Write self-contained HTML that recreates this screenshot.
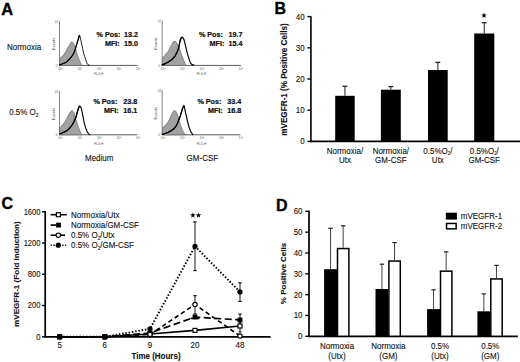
<!DOCTYPE html>
<html><head><meta charset="utf-8"><style>
html,body{margin:0;padding:0;background:#fff;}
body{width:520px;height:362px;overflow:hidden;}
svg{display:block;font-family:"Liberation Sans", sans-serif;}
</style></head><body>
<svg width="520" height="362" viewBox="0 0 520 362">
<text transform="translate(1.2,14.8) scale(1,1.0)" font-size="16.5" font-weight="bold" text-anchor="start" fill="#000" stroke="#000" stroke-width="0.35" >A</text>
<text transform="translate(274.6,14.0) scale(1,1.0)" font-size="16" font-weight="bold" text-anchor="start" fill="#000" stroke="#000" stroke-width="0.35" >B</text>
<text transform="translate(1.5,208.6) scale(1,1.0)" font-size="16" font-weight="bold" text-anchor="start" fill="#000" stroke="#000" stroke-width="0.35" >C</text>
<text transform="translate(276.0,211.0) scale(1,1.0)" font-size="16" font-weight="bold" text-anchor="start" fill="#000" stroke="#000" stroke-width="0.35" >D</text>
<text transform="translate(7,49.8) scale(1,1.08)" font-size="8" font-weight="normal" text-anchor="start" fill="#111" stroke="#111" stroke-width="0.1" >Normoxia</text>
<text transform="translate(9.2,114.9) scale(1,1.08)" font-size="8" font-weight="normal" text-anchor="start" fill="#111" stroke="#111" stroke-width="0.1" >0.5% O<tspan font-size="4.8" dy="1.6">2</tspan></text>
<text transform="translate(85,160.5) scale(1,1.08)" font-size="8" font-weight="normal" text-anchor="start" fill="#111" stroke="#111" stroke-width="0.1" >Medium</text>
<text transform="translate(186.6,160.6) scale(1,1.08)" font-size="8" font-weight="normal" text-anchor="start" fill="#111" stroke="#111" stroke-width="0.1" >GM-CSF</text>
<line x1="59.5" y1="21" x2="59.5" y2="65.4" stroke="#777" stroke-width="0.9" />
<line x1="59.5" y1="65.4" x2="137.5" y2="65.4" stroke="#5a5a5a" stroke-width="1.0" />
<path d="M59.60,65.40 L59.90,58.90 L60.43,57.64 L61.50,57.70 L61.76,56.49 L62.60,56.60 L62.91,55.34 L63.80,55.40 L64.11,53.75 L65.00,53.50 L65.04,52.24 L65.70,52.30 L66.01,50.65 L66.90,50.40 L66.99,48.53 L67.70,48.10 L67.96,47.06 L68.80,47.30 L68.89,45.65 L69.60,45.40 L69.91,43.92 L70.80,43.80 L71.00,42.15 L71.80,41.90 L72.70,42.30 L73.50,43.40 L74.60,45.70 L75.80,49.60 L77.00,53.50 L78.10,57.30 L79.70,61.20 L81.20,64.30 L81.80,65.40 Z" fill="#a2a2a2" stroke="#6a6a6a" stroke-width="0.7" stroke-linejoin="round"/>
<path d="M59.60,64.90 C60.60,64.53 60.57,64.63 62.60,63.80 C64.63,62.97 64.13,63.27 65.70,62.40 C67.27,61.53 66.00,62.33 67.30,61.20 C68.60,60.07 68.03,60.73 69.60,59.00 C71.17,57.27 70.73,57.80 72.00,56.00 C73.27,54.20 72.47,55.47 73.40,53.60 C74.33,51.73 73.87,52.97 74.80,50.40 C75.73,47.83 75.30,48.73 76.20,45.90 C77.10,43.07 76.70,44.47 77.50,41.90 C78.30,39.33 77.93,40.37 78.60,38.20 C79.27,36.03 78.83,35.07 79.50,35.40 C80.17,35.73 79.97,36.70 80.60,39.20 C81.23,41.70 80.83,40.27 81.40,42.90 C81.97,45.53 81.67,44.13 82.30,47.10 C82.93,50.07 82.50,48.67 83.30,51.80 C84.10,54.93 83.77,53.53 84.70,56.50 C85.63,59.47 85.17,58.20 86.10,60.70 C87.03,63.20 86.40,62.50 87.50,64.00 C88.60,65.50 88.77,64.80 89.40,65.20" fill="none" stroke="#000" stroke-width="0.95" stroke-linejoin="round" stroke-linecap="round"/>
<path d="M59.60,64.90 C60.60,64.53 60.57,64.63 62.60,63.80 C64.63,62.97 64.13,63.27 65.70,62.40 C67.27,61.53 66.00,62.33 67.30,61.20 C68.60,60.07 68.03,60.73 69.60,59.00 C71.17,57.27 70.73,57.80 72.00,56.00 C73.27,54.20 72.47,55.47 73.40,53.60 C74.33,51.73 73.87,52.97 74.80,50.40 C75.73,47.83 75.30,48.73 76.20,45.90 C77.10,43.07 76.70,44.47 77.50,41.90 C78.30,39.33 77.93,40.37 78.60,38.20 C79.27,36.03 79.20,36.33 79.50,35.40" fill="none" stroke="#000" stroke-width="1.2" stroke-linejoin="round" stroke-linecap="round"/>
<text transform="translate(60.3,70.0) scale(1,1.08)" font-size="3.2" font-weight="normal" text-anchor="middle" fill="#555" >10<tspan font-size="2.2" dy="-1.1">0</tspan></text>
<text transform="translate(79.8,70.0) scale(1,1.08)" font-size="3.2" font-weight="normal" text-anchor="middle" fill="#555" >10<tspan font-size="2.2" dy="-1.1">1</tspan></text>
<text transform="translate(99.3,70.0) scale(1,1.08)" font-size="3.2" font-weight="normal" text-anchor="middle" fill="#555" >10<tspan font-size="2.2" dy="-1.1">2</tspan></text>
<text transform="translate(118.8,70.0) scale(1,1.08)" font-size="3.2" font-weight="normal" text-anchor="middle" fill="#555" >10<tspan font-size="2.2" dy="-1.1">3</tspan></text>
<text transform="translate(138.3,70.0) scale(1,1.08)" font-size="3.2" font-weight="normal" text-anchor="middle" fill="#555" >10<tspan font-size="2.2" dy="-1.1">4</tspan></text>
<text x="0" y="0" font-size="3.6" fill="#555" text-anchor="middle" transform="translate(57.9,21.6) rotate(-90)">25</text>
<text transform="translate(56.7,66.60000000000001) scale(1,1.08)" font-size="3.0" font-weight="normal" text-anchor="middle" fill="#555" >0</text>
<text x="0" y="0" font-size="4.1" fill="#444" text-anchor="middle" transform="translate(54.7,44.0) rotate(-90)">Events</text>
<text transform="translate(98.7,75.2) scale(1,1.08)" font-size="3.4" font-weight="normal" text-anchor="middle" fill="#555" >FL4-H</text>
<text transform="translate(120.5,36.8) scale(1,1.05)" font-size="7.2" font-weight="bold" text-anchor="end" fill="#111" stroke="#111" stroke-width="0.22" >% Pos:</text>
<text transform="translate(138.1,36.8) scale(1,1.05)" font-size="7.2" font-weight="bold" text-anchor="end" fill="#111" stroke="#111" stroke-width="0.22" >13.2</text>
<text transform="translate(119.7,46.1) scale(1,1.05)" font-size="7.2" font-weight="bold" text-anchor="end" fill="#111" stroke="#111" stroke-width="0.22" >MFI:</text>
<text transform="translate(138.1,46.1) scale(1,1.05)" font-size="7.2" font-weight="bold" text-anchor="end" fill="#111" stroke="#111" stroke-width="0.22" >15.0</text>
<line x1="162.2" y1="20.6" x2="162.2" y2="65.4" stroke="#777" stroke-width="0.9" />
<line x1="162.2" y1="65.4" x2="241" y2="65.4" stroke="#5a5a5a" stroke-width="1.0" />
<path d="M162.10,65.40 L162.40,58.90 L163.15,57.03 L164.40,56.60 L165.04,54.57 L166.20,54.00 L166.84,52.69 L168.00,52.70 L168.37,50.40 L169.30,49.60 L169.67,47.79 L170.60,47.40 L170.97,45.31 L171.90,44.70 L172.32,42.89 L173.30,42.50 L173.67,41.19 L174.60,41.20 L175.90,41.60 L177.20,43.80 L178.60,46.50 L179.90,50.00 L181.20,54.00 L182.50,57.50 L183.90,60.60 L185.00,63.30 L185.80,65.40 Z" fill="#a2a2a2" stroke="#6a6a6a" stroke-width="0.7" stroke-linejoin="round"/>
<path d="M162.20,64.90 C163.23,64.47 163.10,64.67 165.30,63.60 C167.50,62.53 166.73,63.00 168.80,61.70 C170.87,60.40 169.73,61.23 171.50,59.70 C173.27,58.17 172.50,59.13 174.10,57.10 C175.70,55.07 175.13,55.67 176.30,53.60 C177.47,51.53 176.77,53.07 177.60,50.90 C178.43,48.73 178.10,49.87 178.80,47.10 C179.50,44.33 179.07,45.30 179.70,42.60 C180.33,39.90 179.93,40.77 180.70,39.00 C181.47,37.23 181.03,37.37 182.00,37.30 C182.97,37.23 182.63,36.80 183.60,38.80 C184.57,40.80 184.17,40.53 184.90,43.30 C185.63,46.07 185.20,44.57 185.80,47.10 C186.40,49.63 186.07,48.40 186.70,50.90 C187.33,53.40 186.97,52.10 187.70,54.60 C188.43,57.10 188.13,56.03 188.90,58.40 C189.67,60.77 189.17,59.83 190.00,61.70 C190.83,63.57 190.13,62.87 191.40,64.00 C192.67,65.13 193.00,64.73 193.80,65.10" fill="none" stroke="#000" stroke-width="1.15" stroke-linejoin="round" stroke-linecap="round"/>
<path d="M162.20,64.90 C163.23,64.47 163.10,64.67 165.30,63.60 C167.50,62.53 166.73,63.00 168.80,61.70 C170.87,60.40 169.73,61.23 171.50,59.70 C173.27,58.17 172.50,59.13 174.10,57.10 C175.70,55.07 175.13,55.67 176.30,53.60 C177.47,51.53 176.77,53.07 177.60,50.90 C178.43,48.73 178.10,49.87 178.80,47.10 C179.50,44.33 179.07,45.30 179.70,42.60 C180.33,39.90 179.93,40.77 180.70,39.00 C181.47,37.23 181.57,37.87 182.00,37.30" fill="none" stroke="#000" stroke-width="1.2" stroke-linejoin="round" stroke-linecap="round"/>
<text transform="translate(163.0,70.0) scale(1,1.08)" font-size="3.2" font-weight="normal" text-anchor="middle" fill="#555" >10<tspan font-size="2.2" dy="-1.1">0</tspan></text>
<text transform="translate(182.5,70.0) scale(1,1.08)" font-size="3.2" font-weight="normal" text-anchor="middle" fill="#555" >10<tspan font-size="2.2" dy="-1.1">1</tspan></text>
<text transform="translate(202.0,70.0) scale(1,1.08)" font-size="3.2" font-weight="normal" text-anchor="middle" fill="#555" >10<tspan font-size="2.2" dy="-1.1">2</tspan></text>
<text transform="translate(221.5,70.0) scale(1,1.08)" font-size="3.2" font-weight="normal" text-anchor="middle" fill="#555" >10<tspan font-size="2.2" dy="-1.1">3</tspan></text>
<text transform="translate(241.0,70.0) scale(1,1.08)" font-size="3.2" font-weight="normal" text-anchor="middle" fill="#555" >10<tspan font-size="2.2" dy="-1.1">4</tspan></text>
<text x="0" y="0" font-size="3.6" fill="#555" text-anchor="middle" transform="translate(160.6,21.200000000000003) rotate(-90)">25</text>
<text transform="translate(159.39999999999998,66.60000000000001) scale(1,1.08)" font-size="3.0" font-weight="normal" text-anchor="middle" fill="#555" >0</text>
<text x="0" y="0" font-size="4.1" fill="#444" text-anchor="middle" transform="translate(157.39999999999998,43.6) rotate(-90)">Events</text>
<text transform="translate(201.39999999999998,75.2) scale(1,1.08)" font-size="3.4" font-weight="normal" text-anchor="middle" fill="#555" >FL4-H</text>
<text transform="translate(222.9,36.8) scale(1,1.05)" font-size="7.2" font-weight="bold" text-anchor="end" fill="#111" stroke="#111" stroke-width="0.22" >% Pos:</text>
<text transform="translate(242.6,36.8) scale(1,1.05)" font-size="7.2" font-weight="bold" text-anchor="end" fill="#111" stroke="#111" stroke-width="0.22" >19.7</text>
<text transform="translate(224.4,46.3) scale(1,1.05)" font-size="7.2" font-weight="bold" text-anchor="end" fill="#111" stroke="#111" stroke-width="0.22" >MFI:</text>
<text transform="translate(242.6,46.3) scale(1,1.05)" font-size="7.2" font-weight="bold" text-anchor="end" fill="#111" stroke="#111" stroke-width="0.22" >15.4</text>
<line x1="59.5" y1="91" x2="59.5" y2="134.8" stroke="#777" stroke-width="0.9" />
<line x1="59.5" y1="134.8" x2="137.4" y2="134.8" stroke="#5a5a5a" stroke-width="1.0" />
<path d="M59.70,134.80 L59.70,128.30 L60.23,126.93 L61.30,126.90 L61.72,125.53 L62.70,125.50 L63.12,123.86 L64.10,123.60 L64.52,121.95 L65.50,121.70 L65.92,119.56 L66.90,118.90 L67.10,117.26 L67.90,117.00 L68.05,115.41 L68.80,115.20 L68.95,113.78 L69.70,113.70 L69.90,112.33 L70.70,112.30 L70.84,111.21 L71.60,111.40 L71.80,110.53 L72.60,110.90 L73.50,111.90 L74.40,113.30 L74.90,115.60 L75.80,119.40 L77.20,123.10 L78.60,127.40 L80.00,131.10 L81.40,134.00 L81.80,134.80 Z" fill="#a2a2a2" stroke="#6a6a6a" stroke-width="0.7" stroke-linejoin="round"/>
<path d="M59.70,133.90 C60.30,133.67 60.20,133.73 61.50,133.20 C62.80,132.67 61.63,133.30 63.60,132.30 C65.57,131.30 65.20,131.83 67.40,130.20 C69.60,128.57 68.47,129.43 70.20,127.40 C71.93,125.37 71.20,126.30 72.60,124.10 C74.00,121.90 73.40,122.83 74.40,120.80 C75.40,118.77 74.80,120.20 75.60,118.00 C76.40,115.80 76.07,116.73 76.80,114.20 C77.53,111.67 77.13,112.67 77.80,110.40 C78.47,108.13 78.13,108.80 78.80,107.40 C79.47,106.00 79.10,106.17 79.80,106.20 C80.50,106.23 80.30,106.30 80.90,107.50 C81.50,108.70 81.10,107.87 81.60,109.80 C82.10,111.73 81.83,110.57 82.40,113.30 C82.97,116.03 82.70,114.87 83.30,118.00 C83.90,121.13 83.57,119.90 84.20,122.70 C84.83,125.50 84.40,123.90 85.20,126.40 C86.00,128.90 85.67,128.00 86.60,130.20 C87.53,132.40 86.90,131.53 88.00,133.00 C89.10,134.47 89.27,134.07 89.90,134.60" fill="none" stroke="#000" stroke-width="1.15" stroke-linejoin="round" stroke-linecap="round"/>
<path d="M59.70,133.90 C60.30,133.67 60.20,133.73 61.50,133.20 C62.80,132.67 61.63,133.30 63.60,132.30 C65.57,131.30 65.20,131.83 67.40,130.20 C69.60,128.57 68.47,129.43 70.20,127.40 C71.93,125.37 71.20,126.30 72.60,124.10 C74.00,121.90 73.40,122.83 74.40,120.80 C75.40,118.77 74.80,120.20 75.60,118.00 C76.40,115.80 76.07,116.73 76.80,114.20 C77.53,111.67 77.13,112.67 77.80,110.40 C78.47,108.13 78.13,108.80 78.80,107.40 C79.47,106.00 79.47,106.60 79.80,106.20" fill="none" stroke="#000" stroke-width="1.2" stroke-linejoin="round" stroke-linecap="round"/>
<text transform="translate(60.3,139.4) scale(1,1.08)" font-size="3.2" font-weight="normal" text-anchor="middle" fill="#555" >10<tspan font-size="2.2" dy="-1.1">0</tspan></text>
<text transform="translate(79.8,139.4) scale(1,1.08)" font-size="3.2" font-weight="normal" text-anchor="middle" fill="#555" >10<tspan font-size="2.2" dy="-1.1">1</tspan></text>
<text transform="translate(99.3,139.4) scale(1,1.08)" font-size="3.2" font-weight="normal" text-anchor="middle" fill="#555" >10<tspan font-size="2.2" dy="-1.1">2</tspan></text>
<text transform="translate(118.8,139.4) scale(1,1.08)" font-size="3.2" font-weight="normal" text-anchor="middle" fill="#555" >10<tspan font-size="2.2" dy="-1.1">3</tspan></text>
<text transform="translate(138.3,139.4) scale(1,1.08)" font-size="3.2" font-weight="normal" text-anchor="middle" fill="#555" >10<tspan font-size="2.2" dy="-1.1">4</tspan></text>
<text x="0" y="0" font-size="3.6" fill="#555" text-anchor="middle" transform="translate(57.9,91.6) rotate(-90)">25</text>
<text transform="translate(56.7,136.0) scale(1,1.08)" font-size="3.0" font-weight="normal" text-anchor="middle" fill="#555" >0</text>
<text x="0" y="0" font-size="4.1" fill="#444" text-anchor="middle" transform="translate(54.7,114.0) rotate(-90)">Events</text>
<text transform="translate(98.7,144.60000000000002) scale(1,1.08)" font-size="3.4" font-weight="normal" text-anchor="middle" fill="#555" >FL4-H</text>
<text transform="translate(117.4,103.6) scale(1,1.05)" font-size="7.2" font-weight="bold" text-anchor="end" fill="#111" stroke="#111" stroke-width="0.22" >% Pos:</text>
<text transform="translate(137.3,103.6) scale(1,1.05)" font-size="7.2" font-weight="bold" text-anchor="end" fill="#111" stroke="#111" stroke-width="0.22" >23.8</text>
<text transform="translate(118.7,112.5) scale(1,1.05)" font-size="7.2" font-weight="bold" text-anchor="end" fill="#111" stroke="#111" stroke-width="0.22" >MFI:</text>
<text transform="translate(137.3,112.5) scale(1,1.05)" font-size="7.2" font-weight="bold" text-anchor="end" fill="#111" stroke="#111" stroke-width="0.22" >16.1</text>
<line x1="162.2" y1="90.2" x2="162.2" y2="134.8" stroke="#777" stroke-width="0.9" />
<line x1="162.2" y1="134.8" x2="240.4" y2="134.8" stroke="#5a5a5a" stroke-width="1.0" />
<path d="M162.30,134.80 L162.60,128.30 L163.13,126.93 L164.20,126.90 L164.62,125.81 L165.60,126.00 L166.02,124.36 L167.00,124.10 L167.47,122.45 L168.50,122.20 L168.65,120.56 L169.40,120.30 L169.55,118.44 L170.30,118.00 L170.50,116.36 L171.30,116.10 L171.44,114.45 L172.20,114.20 L172.40,112.56 L173.20,112.30 L173.34,111.21 L174.10,111.40 L174.25,110.53 L175.00,110.90 L176.00,111.40 L176.90,112.80 L177.90,115.60 L179.20,120.80 L180.60,125.50 L182.50,130.20 L184.30,133.50 L185.00,134.80 Z" fill="#a2a2a2" stroke="#6a6a6a" stroke-width="0.7" stroke-linejoin="round"/>
<path d="M162.30,134.40 C163.40,134.03 163.23,134.20 165.60,133.30 C167.97,132.40 167.20,132.80 169.40,131.70 C171.60,130.60 170.33,131.43 172.20,130.00 C174.07,128.57 173.43,129.27 175.00,127.40 C176.57,125.53 175.80,126.53 176.90,124.40 C178.00,122.27 177.37,123.30 178.30,121.00 C179.23,118.70 178.77,120.07 179.70,117.50 C180.63,114.93 180.17,116.20 181.10,113.30 C182.03,110.40 181.57,111.30 182.50,108.80 C183.43,106.30 183.13,105.73 183.90,105.80 C184.67,105.87 184.20,106.50 184.80,109.00 C185.40,111.50 185.07,110.47 185.70,113.30 C186.33,116.13 186.07,114.70 186.70,117.50 C187.33,120.30 186.97,119.03 187.60,121.70 C188.23,124.37 187.80,122.83 188.60,125.50 C189.40,128.17 189.07,127.37 190.00,129.70 C190.93,132.03 190.47,130.87 191.40,132.50 C192.33,134.13 192.33,133.90 192.80,134.60" fill="none" stroke="#000" stroke-width="1.15" stroke-linejoin="round" stroke-linecap="round"/>
<path d="M162.30,134.40 C163.40,134.03 163.23,134.20 165.60,133.30 C167.97,132.40 167.20,132.80 169.40,131.70 C171.60,130.60 170.33,131.43 172.20,130.00 C174.07,128.57 173.43,129.27 175.00,127.40 C176.57,125.53 175.80,126.53 176.90,124.40 C178.00,122.27 177.37,123.30 178.30,121.00 C179.23,118.70 178.77,120.07 179.70,117.50 C180.63,114.93 180.17,116.20 181.10,113.30 C182.03,110.40 181.57,111.30 182.50,108.80 C183.43,106.30 183.43,106.80 183.90,105.80" fill="none" stroke="#000" stroke-width="1.2" stroke-linejoin="round" stroke-linecap="round"/>
<text transform="translate(163.0,139.4) scale(1,1.08)" font-size="3.2" font-weight="normal" text-anchor="middle" fill="#555" >10<tspan font-size="2.2" dy="-1.1">0</tspan></text>
<text transform="translate(182.5,139.4) scale(1,1.08)" font-size="3.2" font-weight="normal" text-anchor="middle" fill="#555" >10<tspan font-size="2.2" dy="-1.1">1</tspan></text>
<text transform="translate(202.0,139.4) scale(1,1.08)" font-size="3.2" font-weight="normal" text-anchor="middle" fill="#555" >10<tspan font-size="2.2" dy="-1.1">2</tspan></text>
<text transform="translate(221.5,139.4) scale(1,1.08)" font-size="3.2" font-weight="normal" text-anchor="middle" fill="#555" >10<tspan font-size="2.2" dy="-1.1">3</tspan></text>
<text transform="translate(241.0,139.4) scale(1,1.08)" font-size="3.2" font-weight="normal" text-anchor="middle" fill="#555" >10<tspan font-size="2.2" dy="-1.1">4</tspan></text>
<text x="0" y="0" font-size="3.6" fill="#555" text-anchor="middle" transform="translate(160.6,90.8) rotate(-90)">25</text>
<text transform="translate(159.39999999999998,136.0) scale(1,1.08)" font-size="3.0" font-weight="normal" text-anchor="middle" fill="#555" >0</text>
<text x="0" y="0" font-size="4.1" fill="#444" text-anchor="middle" transform="translate(157.39999999999998,113.2) rotate(-90)">Events</text>
<text transform="translate(201.39999999999998,144.60000000000002) scale(1,1.08)" font-size="3.4" font-weight="normal" text-anchor="middle" fill="#555" >FL4-H</text>
<text transform="translate(221.4,103.6) scale(1,1.05)" font-size="7.2" font-weight="bold" text-anchor="end" fill="#111" stroke="#111" stroke-width="0.22" >% Pos:</text>
<text transform="translate(241.3,103.6) scale(1,1.05)" font-size="7.2" font-weight="bold" text-anchor="end" fill="#111" stroke="#111" stroke-width="0.22" >33.4</text>
<text transform="translate(222.7,112.5) scale(1,1.05)" font-size="7.2" font-weight="bold" text-anchor="end" fill="#111" stroke="#111" stroke-width="0.22" >MFI:</text>
<text transform="translate(241.3,112.5) scale(1,1.05)" font-size="7.2" font-weight="bold" text-anchor="end" fill="#111" stroke="#111" stroke-width="0.22" >16.8</text>
<line x1="310.9" y1="16.2" x2="310.9" y2="142.20000000000002" stroke="#000" stroke-width="1.6" />
<line x1="310.09999999999997" y1="141.4" x2="520" y2="141.4" stroke="#000" stroke-width="1.7" />
<line x1="307.4" y1="141.4" x2="310.9" y2="141.4" stroke="#000" stroke-width="1.4" />
<text transform="translate(304.7,144.3) scale(1,1.08)" font-size="8" font-weight="normal" text-anchor="end" fill="#111" stroke="#111" stroke-width="0.1" >0</text>
<line x1="307.4" y1="110.2" x2="310.9" y2="110.2" stroke="#000" stroke-width="1.4" />
<text transform="translate(304.7,113.10000000000001) scale(1,1.08)" font-size="8" font-weight="normal" text-anchor="end" fill="#111" stroke="#111" stroke-width="0.1" >10</text>
<line x1="307.4" y1="79.0" x2="310.9" y2="79.0" stroke="#000" stroke-width="1.4" />
<text transform="translate(304.7,81.9) scale(1,1.08)" font-size="8" font-weight="normal" text-anchor="end" fill="#111" stroke="#111" stroke-width="0.1" >20</text>
<line x1="307.4" y1="47.8" x2="310.9" y2="47.8" stroke="#000" stroke-width="1.4" />
<text transform="translate(304.7,50.699999999999996) scale(1,1.08)" font-size="8" font-weight="normal" text-anchor="end" fill="#111" stroke="#111" stroke-width="0.1" >30</text>
<line x1="307.4" y1="16.599999999999994" x2="310.9" y2="16.599999999999994" stroke="#000" stroke-width="1.4" />
<text transform="translate(304.7,19.499999999999993) scale(1,1.08)" font-size="8" font-weight="normal" text-anchor="end" fill="#111" stroke="#111" stroke-width="0.1" >40</text>
<rect x="335.2" y="95.8" width="19.5" height="45.60000000000001" fill="#000" stroke="none" stroke-width="0"/>
<line x1="344.95" y1="86.3" x2="344.95" y2="95.8" stroke="#333" stroke-width="1.1" />
<line x1="342.55" y1="86.3" x2="347.34999999999997" y2="86.3" stroke="#222" stroke-width="1.3" />
<rect x="380.9" y="89.7" width="19.900000000000034" height="51.7" fill="#000" stroke="none" stroke-width="0"/>
<line x1="390.85" y1="86.6" x2="390.85" y2="89.7" stroke="#333" stroke-width="1.1" />
<line x1="388.45000000000005" y1="86.6" x2="393.25" y2="86.6" stroke="#222" stroke-width="1.3" />
<rect x="428.0" y="70.0" width="19.69999999999999" height="71.4" fill="#000" stroke="none" stroke-width="0"/>
<line x1="437.85" y1="62.4" x2="437.85" y2="70.0" stroke="#333" stroke-width="1.1" />
<line x1="435.45000000000005" y1="62.4" x2="440.25" y2="62.4" stroke="#222" stroke-width="1.3" />
<rect x="474.2" y="33.5" width="20.100000000000023" height="107.9" fill="#000" stroke="none" stroke-width="0"/>
<line x1="484.25" y1="22.7" x2="484.25" y2="33.5" stroke="#333" stroke-width="1.1" />
<line x1="481.85" y1="22.7" x2="486.65" y2="22.7" stroke="#222" stroke-width="1.3" />
<polygon points="484.00,12.50 484.73,14.39 486.76,14.50 485.19,15.79 485.70,17.75 484.00,16.65 482.30,17.75 482.81,15.79 481.24,14.50 483.27,14.39" fill="#000"/>
<text transform="translate(344.95,153.6) scale(1,1.08)" font-size="8" font-weight="normal" text-anchor="middle" fill="#111" stroke="#111" stroke-width="0.1" >Normoxia/</text>
<text transform="translate(344.95,163.2) scale(1,1.08)" font-size="8" font-weight="normal" text-anchor="middle" fill="#111" stroke="#111" stroke-width="0.1" >Utx</text>
<text transform="translate(390.85,153.6) scale(1,1.08)" font-size="8" font-weight="normal" text-anchor="middle" fill="#111" stroke="#111" stroke-width="0.1" >Normoxia/</text>
<text transform="translate(390.85,163.2) scale(1,1.08)" font-size="8" font-weight="normal" text-anchor="middle" fill="#111" stroke="#111" stroke-width="0.1" >GM-CSF</text>
<text transform="translate(437.85,153.6) scale(1,1.08)" font-size="8" font-weight="normal" text-anchor="middle" fill="#111" stroke="#111" stroke-width="0.1" >0.5%O<tspan font-size="4.3" dy="1.4">2</tspan><tspan dy="-1.4">/</tspan></text>
<text transform="translate(437.85,163.2) scale(1,1.08)" font-size="8" font-weight="normal" text-anchor="middle" fill="#111" stroke="#111" stroke-width="0.1" >Utx</text>
<text transform="translate(484.25,153.6) scale(1,1.08)" font-size="8" font-weight="normal" text-anchor="middle" fill="#111" stroke="#111" stroke-width="0.1" >0.5%O<tspan font-size="4.3" dy="1.4">2</tspan><tspan dy="-1.4">/</tspan></text>
<text transform="translate(484.25,163.2) scale(1,1.08)" font-size="8" font-weight="normal" text-anchor="middle" fill="#111" stroke="#111" stroke-width="0.1" >GM-CSF</text>
<text x="0" y="0" font-size="8.15" font-weight="bold" fill="#111" stroke="#111" stroke-width="0.1" text-anchor="middle" transform="translate(286.6,79.5) rotate(-90)">mVEGFR-1 (% Positive Cells)</text>
<line x1="45.2" y1="210.9" x2="45.2" y2="336.8" stroke="#000" stroke-width="1.7" />
<line x1="44.35" y1="336.8" x2="270.6" y2="336.8" stroke="#000" stroke-width="1.8" />
<line x1="42.0" y1="336.8" x2="45.2" y2="336.8" stroke="#000" stroke-width="1.4" />
<text transform="translate(40.5,339.6) scale(1,1.08)" font-size="7.6" font-weight="normal" text-anchor="end" fill="#111" stroke="#111" stroke-width="0.1" >0</text>
<line x1="42.0" y1="305.53000000000003" x2="45.2" y2="305.53000000000003" stroke="#000" stroke-width="1.4" />
<text transform="translate(40.5,308.33000000000004) scale(1,1.08)" font-size="7.6" font-weight="normal" text-anchor="end" fill="#111" stroke="#111" stroke-width="0.1" >200</text>
<line x1="42.0" y1="274.26" x2="45.2" y2="274.26" stroke="#000" stroke-width="1.4" />
<text transform="translate(40.5,277.06) scale(1,1.08)" font-size="7.6" font-weight="normal" text-anchor="end" fill="#111" stroke="#111" stroke-width="0.1" >800</text>
<line x1="42.0" y1="242.99" x2="45.2" y2="242.99" stroke="#000" stroke-width="1.4" />
<text transform="translate(40.5,245.79000000000002) scale(1,1.08)" font-size="7.6" font-weight="normal" text-anchor="end" fill="#111" stroke="#111" stroke-width="0.1" >1200</text>
<line x1="42.0" y1="211.72000000000003" x2="45.2" y2="211.72000000000003" stroke="#000" stroke-width="1.4" />
<text transform="translate(40.5,214.52000000000004) scale(1,1.08)" font-size="7.6" font-weight="normal" text-anchor="end" fill="#111" stroke="#111" stroke-width="0.1" >1600</text>
<text transform="translate(59.7,347.5) scale(1,1.08)" font-size="8" font-weight="normal" text-anchor="middle" fill="#111" stroke="#111" stroke-width="0.1" >5</text>
<text transform="translate(104.8,347.5) scale(1,1.08)" font-size="8" font-weight="normal" text-anchor="middle" fill="#111" stroke="#111" stroke-width="0.1" >6</text>
<text transform="translate(150.0,347.5) scale(1,1.08)" font-size="8" font-weight="normal" text-anchor="middle" fill="#111" stroke="#111" stroke-width="0.1" >9</text>
<text transform="translate(195.0,347.5) scale(1,1.08)" font-size="8" font-weight="normal" text-anchor="middle" fill="#111" stroke="#111" stroke-width="0.1" >20</text>
<text transform="translate(240.0,347.5) scale(1,1.08)" font-size="8" font-weight="normal" text-anchor="middle" fill="#111" stroke="#111" stroke-width="0.1" >48</text>
<text transform="translate(156,359.1) scale(1,1.05)" font-size="8" font-weight="bold" text-anchor="middle" fill="#111" stroke="#111" stroke-width="0.1" >Time (Hours)</text>
<text x="0" y="0" font-size="8.1" font-weight="bold" fill="#111" stroke="#111" stroke-width="0.1" text-anchor="middle" transform="translate(19.4,274.1) rotate(-90)">mVEGFR-1 (Fold Induction)</text>
<line x1="195.0" y1="221.9" x2="195.0" y2="270.6" stroke="#000" stroke-width="0.9" />
<line x1="193.3" y1="221.9" x2="196.7" y2="221.9" stroke="#000" stroke-width="1.1" />
<line x1="193.3" y1="270.6" x2="196.7" y2="270.6" stroke="#000" stroke-width="1.1" />
<line x1="240.0" y1="282.9" x2="240.0" y2="301.4" stroke="#000" stroke-width="0.9" />
<line x1="238.3" y1="282.9" x2="241.7" y2="282.9" stroke="#000" stroke-width="1.1" />
<line x1="238.3" y1="301.4" x2="241.7" y2="301.4" stroke="#000" stroke-width="1.1" />
<line x1="195.0" y1="295.7" x2="195.0" y2="314.0" stroke="#000" stroke-width="0.9" />
<line x1="193.3" y1="295.7" x2="196.7" y2="295.7" stroke="#000" stroke-width="1.1" />
<line x1="193.3" y1="314.0" x2="196.7" y2="314.0" stroke="#000" stroke-width="1.1" />
<line x1="240.0" y1="314.1" x2="240.0" y2="325.5" stroke="#000" stroke-width="0.9" />
<line x1="238.3" y1="314.1" x2="241.7" y2="314.1" stroke="#000" stroke-width="1.1" />
<line x1="238.3" y1="325.5" x2="241.7" y2="325.5" stroke="#000" stroke-width="1.1" />
<line x1="240.0" y1="322.0" x2="240.0" y2="332.0" stroke="#000" stroke-width="0.9" />
<line x1="238.7" y1="322.0" x2="241.3" y2="322.0" stroke="#000" stroke-width="1.1" />
<line x1="238.7" y1="332.0" x2="241.3" y2="332.0" stroke="#000" stroke-width="1.1" />
<line x1="190.6" y1="318.4" x2="199.4" y2="318.4" stroke="#000" stroke-width="1.6" />
<path d="M59.7,336.8 L104.8,336.8 L150.0,328.8 L195.0,246.3 L240.0,291.9" fill="none" stroke="#000" stroke-width="1.9" stroke-dasharray="1.5 1.8"/>
<path d="M59.7,336.8 L104.8,336.8 L150.0,334.4 L195.0,304.5 L240.0,336.0" fill="none" stroke="#000" stroke-width="1.6" stroke-dasharray="4.5 3"/>
<path d="M59.7,336.8 L104.8,336.8 L150.0,333.0 L195.0,317.0 L240.0,320.0" fill="none" stroke="#000" stroke-width="1.7" stroke-dasharray="7 3.5"/>
<path d="M59.7,336.8 L104.8,336.8 L150.0,334.0 L195.0,330.4 L240.0,326.0" fill="none" stroke="#000" stroke-width="1.6" />
<rect x="57.7" y="334.8" width="4.0" height="4.0" fill="#fff" stroke="#000" stroke-width="1.15"/>
<rect x="102.8" y="334.8" width="4.0" height="4.0" fill="#fff" stroke="#000" stroke-width="1.15"/>
<rect x="148.0" y="332.0" width="4.0" height="4.0" fill="#fff" stroke="#000" stroke-width="1.15"/>
<rect x="193.0" y="328.4" width="4.0" height="4.0" fill="#fff" stroke="#000" stroke-width="1.15"/>
<rect x="238.0" y="324.0" width="4.0" height="4.0" fill="#fff" stroke="#000" stroke-width="1.15"/>
<rect x="57.300000000000004" y="334.40000000000003" width="4.8" height="4.8" fill="#000" stroke="none" stroke-width="0"/>
<rect x="102.39999999999999" y="334.40000000000003" width="4.8" height="4.8" fill="#000" stroke="none" stroke-width="0"/>
<rect x="147.6" y="330.6" width="4.8" height="4.8" fill="#000" stroke="none" stroke-width="0"/>
<rect x="192.6" y="314.6" width="4.8" height="4.8" fill="#000" stroke="none" stroke-width="0"/>
<rect x="237.6" y="317.6" width="4.8" height="4.8" fill="#000" stroke="none" stroke-width="0"/>
<circle cx="59.7" cy="336.8" r="2.2" fill="#fff" stroke="#000" stroke-width="1.15"/>
<circle cx="104.8" cy="336.8" r="2.2" fill="#fff" stroke="#000" stroke-width="1.15"/>
<circle cx="150.0" cy="334.4" r="2.2" fill="#fff" stroke="#000" stroke-width="1.15"/>
<circle cx="195.0" cy="304.5" r="2.2" fill="#fff" stroke="#000" stroke-width="1.15"/>
<circle cx="240.0" cy="336.0" r="2.2" fill="#fff" stroke="#000" stroke-width="1.15"/>
<circle cx="59.7" cy="336.8" r="2.6" fill="#000"/>
<circle cx="104.8" cy="336.8" r="2.6" fill="#000"/>
<circle cx="150.0" cy="328.8" r="2.6" fill="#000"/>
<circle cx="195.0" cy="246.3" r="2.6" fill="#000"/>
<circle cx="240.0" cy="291.9" r="2.6" fill="#000"/>
<polygon points="192.90,212.40 193.63,214.29 195.66,214.40 194.09,215.69 194.60,217.65 192.90,216.55 191.20,217.65 191.71,215.69 190.14,214.40 192.17,214.29" fill="#000"/>
<polygon points="198.50,212.40 199.23,214.29 201.26,214.40 199.69,215.69 200.20,217.65 198.50,216.55 196.80,217.65 197.31,215.69 195.74,214.40 197.77,214.29" fill="#000"/>
<line x1="50.6" y1="214.7" x2="66.7" y2="214.7" stroke="#000" stroke-width="1.6" />
<rect x="56.4" y="212.7" width="4.0" height="4.0" fill="#fff" stroke="#000" stroke-width="1.15"/>
<line x1="50.6" y1="225.1" x2="56" y2="225.1" stroke="#000" stroke-width="1.7" />
<rect x="56.1" y="222.7" width="4.8" height="4.8" fill="#000" stroke="none" stroke-width="0"/>
<line x1="50.6" y1="235.2" x2="65.0" y2="235.2" stroke="#000" stroke-width="1.6" />
<circle cx="58.3" cy="235.2" r="2.2" fill="#fff" stroke="#000" stroke-width="1.15"/>
<path d="M50.6,245.2 L66.2,245.2" fill="none" stroke="#000" stroke-width="1.5" stroke-dasharray="1.3 1.6"/>
<circle cx="58.3" cy="245.2" r="2.6" fill="#000"/>
<text transform="translate(71.0,217.5) scale(1,1.08)" font-size="8" font-weight="normal" text-anchor="start" fill="#111" stroke="#111" stroke-width="0.1" >Normoxia/Utx</text>
<text transform="translate(71.0,227.9) scale(1,1.08)" font-size="8" font-weight="normal" text-anchor="start" fill="#111" stroke="#111" stroke-width="0.1" >Normoxia/GM-CSF</text>
<text transform="translate(71.0,238.0) scale(1,1.08)" font-size="8" font-weight="normal" text-anchor="start" fill="#111" stroke="#111" stroke-width="0.1" >0.5% O<tspan font-size="4.6" dy="1.5">2</tspan><tspan dy="-1.5">/Utx</tspan></text>
<text transform="translate(71.0,248.0) scale(1,1.08)" font-size="8" font-weight="normal" text-anchor="start" fill="#111" stroke="#111" stroke-width="0.1" >0.5% O<tspan font-size="4.6" dy="1.5">2</tspan><tspan dy="-1.5">/GM-CSF</tspan></text>
<line x1="309.0" y1="210.6" x2="309.0" y2="336.3" stroke="#000" stroke-width="1.7" />
<line x1="308.15" y1="336.3" x2="517.8" y2="336.3" stroke="#000" stroke-width="1.8" />
<line x1="305.3" y1="336.3" x2="309.0" y2="336.3" stroke="#000" stroke-width="1.4" />
<text transform="translate(302.5,339.2) scale(1,1.08)" font-size="7.9" font-weight="normal" text-anchor="end" fill="#111" stroke="#111" stroke-width="0.1" >0</text>
<line x1="305.3" y1="315.47" x2="309.0" y2="315.47" stroke="#000" stroke-width="1.4" />
<text transform="translate(302.5,318.37) scale(1,1.08)" font-size="7.9" font-weight="normal" text-anchor="end" fill="#111" stroke="#111" stroke-width="0.1" >10</text>
<line x1="305.3" y1="294.64" x2="309.0" y2="294.64" stroke="#000" stroke-width="1.4" />
<text transform="translate(302.5,297.53999999999996) scale(1,1.08)" font-size="7.9" font-weight="normal" text-anchor="end" fill="#111" stroke="#111" stroke-width="0.1" >20</text>
<line x1="305.3" y1="273.81" x2="309.0" y2="273.81" stroke="#000" stroke-width="1.4" />
<text transform="translate(302.5,276.71) scale(1,1.08)" font-size="7.9" font-weight="normal" text-anchor="end" fill="#111" stroke="#111" stroke-width="0.1" >30</text>
<line x1="305.3" y1="252.98000000000002" x2="309.0" y2="252.98000000000002" stroke="#000" stroke-width="1.4" />
<text transform="translate(302.5,255.88000000000002) scale(1,1.08)" font-size="7.9" font-weight="normal" text-anchor="end" fill="#111" stroke="#111" stroke-width="0.1" >40</text>
<line x1="305.3" y1="232.15" x2="309.0" y2="232.15" stroke="#000" stroke-width="1.4" />
<text transform="translate(302.5,235.05) scale(1,1.08)" font-size="7.9" font-weight="normal" text-anchor="end" fill="#111" stroke="#111" stroke-width="0.1" >50</text>
<line x1="305.3" y1="211.32" x2="309.0" y2="211.32" stroke="#000" stroke-width="1.4" />
<text transform="translate(302.5,214.22) scale(1,1.08)" font-size="7.9" font-weight="normal" text-anchor="end" fill="#111" stroke="#111" stroke-width="0.1" >60</text>
<line x1="330.55" y1="228.3" x2="330.55" y2="269.2" stroke="#444" stroke-width="1.0" />
<line x1="328.35" y1="228.3" x2="332.75" y2="228.3" stroke="#222" stroke-width="1.2" />
<line x1="343.15" y1="225.8" x2="343.15" y2="247.8" stroke="#444" stroke-width="1.0" />
<line x1="340.95" y1="225.8" x2="345.34999999999997" y2="225.8" stroke="#222" stroke-width="1.2" />
<rect x="324.1" y="269.2" width="12.9" height="67.10000000000002" fill="#000" stroke="none" stroke-width="0"/>
<rect x="337.5" y="248.55" width="11.4" height="87.75" fill="#fff" stroke="#000" stroke-width="1.5"/>
<line x1="381.95" y1="264.2" x2="381.95" y2="289.0" stroke="#444" stroke-width="1.0" />
<line x1="379.75" y1="264.2" x2="384.15" y2="264.2" stroke="#222" stroke-width="1.2" />
<line x1="394.54999999999995" y1="242.6" x2="394.54999999999995" y2="260.3" stroke="#444" stroke-width="1.0" />
<line x1="392.34999999999997" y1="242.6" x2="396.74999999999994" y2="242.6" stroke="#222" stroke-width="1.2" />
<rect x="375.5" y="289.0" width="12.9" height="47.30000000000001" fill="#000" stroke="none" stroke-width="0"/>
<rect x="388.9" y="261.05" width="11.4" height="75.25" fill="#fff" stroke="#000" stroke-width="1.5"/>
<line x1="433.55" y1="289.8" x2="433.55" y2="309.1" stroke="#444" stroke-width="1.0" />
<line x1="431.35" y1="289.8" x2="435.75" y2="289.8" stroke="#222" stroke-width="1.2" />
<line x1="446.15" y1="251.9" x2="446.15" y2="270.4" stroke="#444" stroke-width="1.0" />
<line x1="443.95" y1="251.9" x2="448.34999999999997" y2="251.9" stroke="#222" stroke-width="1.2" />
<rect x="427.1" y="309.1" width="12.9" height="27.19999999999999" fill="#000" stroke="none" stroke-width="0"/>
<rect x="440.5" y="271.15" width="11.4" height="65.15000000000003" fill="#fff" stroke="#000" stroke-width="1.5"/>
<line x1="483.84999999999997" y1="293.9" x2="483.84999999999997" y2="311.3" stroke="#444" stroke-width="1.0" />
<line x1="481.65" y1="293.9" x2="486.04999999999995" y2="293.9" stroke="#222" stroke-width="1.2" />
<line x1="496.44999999999993" y1="265.4" x2="496.44999999999993" y2="278.2" stroke="#444" stroke-width="1.0" />
<line x1="494.24999999999994" y1="265.4" x2="498.6499999999999" y2="265.4" stroke="#222" stroke-width="1.2" />
<rect x="477.4" y="311.3" width="12.9" height="25.0" fill="#000" stroke="none" stroke-width="0"/>
<rect x="490.79999999999995" y="278.95" width="11.4" height="57.35000000000002" fill="#fff" stroke="#000" stroke-width="1.5"/>
<text transform="translate(337.0,349.0) scale(1,1.08)" font-size="8" font-weight="normal" text-anchor="middle" fill="#111" stroke="#111" stroke-width="0.1" >Normoxia</text>
<text transform="translate(337.0,358.6) scale(1,1.08)" font-size="8" font-weight="normal" text-anchor="middle" fill="#111" stroke="#111" stroke-width="0.1" >(Utx)</text>
<text transform="translate(388.4,349.0) scale(1,1.08)" font-size="8" font-weight="normal" text-anchor="middle" fill="#111" stroke="#111" stroke-width="0.1" >Normoxia</text>
<text transform="translate(388.4,358.6) scale(1,1.08)" font-size="8" font-weight="normal" text-anchor="middle" fill="#111" stroke="#111" stroke-width="0.1" >(GM)</text>
<text transform="translate(440.0,349.0) scale(1,1.08)" font-size="8" font-weight="normal" text-anchor="middle" fill="#111" stroke="#111" stroke-width="0.1" >0.5%</text>
<text transform="translate(440.0,358.6) scale(1,1.08)" font-size="8" font-weight="normal" text-anchor="middle" fill="#111" stroke="#111" stroke-width="0.1" >(Utx)</text>
<text transform="translate(490.29999999999995,349.0) scale(1,1.08)" font-size="8" font-weight="normal" text-anchor="middle" fill="#111" stroke="#111" stroke-width="0.1" >0.5%</text>
<text transform="translate(490.29999999999995,358.6) scale(1,1.08)" font-size="8" font-weight="normal" text-anchor="middle" fill="#111" stroke="#111" stroke-width="0.1" >(GM)</text>
<rect x="445.8" y="212.7" width="11.1" height="6.9" fill="#000" stroke="none" stroke-width="0"/>
<rect x="446.55" y="223.45" width="9.6" height="5.4" fill="#fff" stroke="#000" stroke-width="1.5"/>
<text transform="translate(460.8,219.2) scale(1,1.08)" font-size="8" font-weight="normal" text-anchor="start" fill="#111" stroke="#111" stroke-width="0.1" >mVEGFR-1</text>
<text transform="translate(460.8,229.3) scale(1,1.08)" font-size="8" font-weight="normal" text-anchor="start" fill="#111" stroke="#111" stroke-width="0.1" >mVEGFR-2</text>
<text x="0" y="0" font-size="8.0" font-weight="bold" fill="#111" stroke="#111" stroke-width="0.1" text-anchor="middle" transform="translate(285.7,273.5) rotate(-90)">% Positive Cells</text>
</svg>
</body></html>
